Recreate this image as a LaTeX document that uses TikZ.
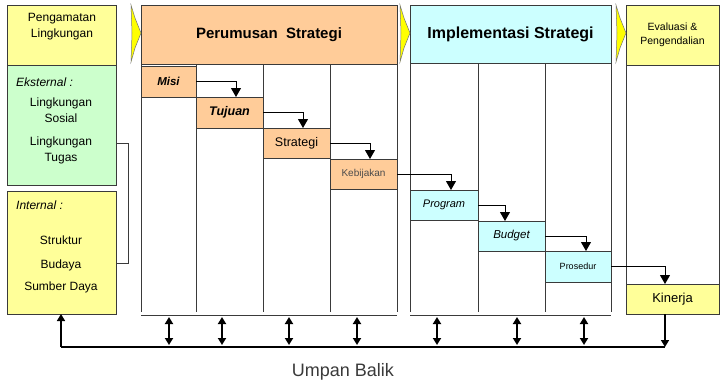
\documentclass[tikz,border=0pt]{standalone}
\usepackage{fontspec}
\setmainfont{Liberation Sans}
\usetikzlibrary{arrows.meta}

\definecolor{boxyellow}{HTML}{FFFF99}
\definecolor{boxgreen}{HTML}{CCFFCC}
\definecolor{boxorange}{HTML}{FFCC99}
\definecolor{boxcyan}{HTML}{CCFFFF}
\definecolor{edge}{HTML}{3A3A3A}
\definecolor{chev}{HTML}{FFFF00}

\begin{document}
\begin{tikzpicture}[x=1pt,y=-1pt,
  panel/.style={draw=edge, line width=1pt, inner sep=0pt, outer sep=0pt, anchor=north west},
  lbl/.style={inner sep=0pt, font=\fontsize{12}{16}\selectfont, align=center},
  stepbox/.style={panel, fill=boxorange},
  implbox/.style={panel, fill=boxcyan},
  wire/.style={draw=edge, line width=1pt},
  flow/.style={draw=black, line width=1pt, -{Triangle[length=9pt,width=10pt]}},
  dbl/.style={draw=black, line width=1.8pt, {Triangle[length=7pt,width=8pt]}-{Triangle[length=7pt,width=8pt]}},
  fbarrow/.style={draw=black, line width=1.5pt, -{Triangle[length=7pt,width=8pt]}},
  chevron/.style={fill=chev, draw=edge!70, line width=0.5pt}
]
\useasboundingbox (0,0) rectangle (720,384);
\fill[white] (0,0) rectangle (720,384);

% ---- environment scanning column ----
\node[panel, fill=boxyellow, minimum width=109, minimum height=60] (peng) at (7,5) {};
\node[lbl] (pengtxt) at (62,27) {Pengamatan\\Lingkungan};
\node[panel, fill=boxgreen, minimum width=109, minimum height=120] (ekst) at (7,65) {};
\node[lbl, anchor=west, font=\fontsize{12}{16}\selectfont\itshape] (eksttxt) at (16,82) {Eksternal :};
\node[lbl] (sosial) at (61,110) {Lingkungan\\Sosial};
\node[lbl] (tugas) at (61,150) {Lingkungan\\Tugas};
\node[panel, fill=boxyellow, minimum width=109, minimum height=123] (intr) at (7,191) {};
\node[lbl, anchor=west, font=\fontsize{12}{16}\selectfont\itshape] (intrtxt) at (16,205) {Internal :};
\node[lbl] (struktur) at (61,240) {Struktur};
\node[lbl] (budaya) at (61,265) {Budaya};
\node[lbl] (sdaya) at (61,287) {Sumber Daya};

% bracket joining external and internal factors
\coordinate (brtop) at (128,143);
\coordinate (brbot) at (128,263);
\draw[wire] (ekst.east |- brtop) -- (brtop) -- (brbot) -- (intr.east |- brbot);

% ---- stage headers ----
\node[panel, fill=boxorange, minimum width=256, minimum height=59,
      font=\fontsize{15}{17}\selectfont\bfseries] (perumusan) at (141,5) {Perumusan~~Strategi};
\node[panel, fill=boxcyan, minimum width=201, minimum height=58,
      font=\fontsize{16}{18}\selectfont\bfseries] (implementasi) at (410,5) {Implementasi Strategi};
\node[panel, fill=boxyellow, minimum width=93, minimum height=60, align=center,
      font=\fontsize{10.5}{14}\selectfont] (evaluasi) at (626,5) {Evaluasi \&\\Pengendalian};

% yellow chevrons between stages
\foreach \cx in {131,400,616}
  \path[chevron] (\cx,5) -- (\cx+4,18) -- (\cx+10,33) -- (\cx+4,48) -- (\cx,62) -- (\cx+1,33) -- cycle;

% ---- column rules ----
\foreach \cx in {141,196,263,330,397}
  \draw[wire] (\cx,64) -- (\cx,312);
\foreach \cx in {410,478,545,611}
  \draw[wire] (\cx,63) -- (\cx,312);
\draw[wire] (626,65) -- (626,284);
\draw[wire] (719,65) -- (719,284);

% ---- steps ----
\node[stepbox, minimum width=55, minimum height=31, font=\fontsize{11.5}{13}\selectfont\bfseries\itshape] (misi) at (141,66) {Misi};
\node[stepbox, minimum width=67, minimum height=31, font=\fontsize{12.5}{14}\selectfont\bfseries\itshape] (tujuan) at (196,97) {Tujuan};
\node[stepbox, minimum width=67, minimum height=30, font=\fontsize{12.5}{14}\selectfont] (strategi) at (263,128) {Strategi};
\node[stepbox, minimum width=67, minimum height=30, font=\fontsize{10}{11}\selectfont, text=black!70] (kebijakan) at (330,159) {Kebijakan};
\node[implbox, minimum width=68, minimum height=30, font=\fontsize{11}{12}\selectfont\itshape] (program) at (410,190) {Program};
\node[implbox, minimum width=67, minimum height=30, font=\fontsize{11.5}{12}\selectfont\itshape] (budget) at (478,221) {Budget};
\node[implbox, minimum width=66, minimum height=31, font=\fontsize{9}{11}\selectfont] (prosedur) at (545,251) {Prosedur};
\node[panel, fill=boxyellow, minimum width=93, minimum height=30, font=\fontsize{13}{14}\selectfont] (kinerja) at (626,284) {Kinerja};

% step-to-step flow
\draw[flow] (misi.east) -| ([xshift=40]tujuan.north west);
\draw[flow] (tujuan.east) -| ([xshift=40]strategi.north west);
\draw[flow] (strategi.east) -| ([xshift=40]kebijakan.north west);
\draw[flow] (kebijakan.east) -| ([xshift=41]program.north west);
\draw[flow] (program.east) -| ([xshift=27]budget.north west);
\draw[flow] (budget.east) -| ([xshift=41]prosedur.north west);
\draw[flow] (prosedur.east) -| ([xshift=39]kinerja.north west);

% ---- feedback ----
\draw[wire] (141,315) -- (397,315);
\draw[wire] (410,315) -- (611,315);
\foreach \cx in {169,222,289,357,437,517,584}
  \draw[dbl] (\cx,317) -- (\cx,345);
\coordinate (fbL) at (61,347);
\coordinate (fbR) at (665,347);
\draw[draw=black, line width=1.5pt] (fbL) -- (fbR);
\draw[fbarrow] (fbL) -- (intr.south -| fbL);
\draw[fbarrow] (kinerja.south -| fbR) -- (fbR);
\node[inner sep=0pt, font=\fontsize{18}{20}\selectfont, text=edge] (umpan) at (343,372) {Umpan Balik};
\end{tikzpicture}
\end{document}
